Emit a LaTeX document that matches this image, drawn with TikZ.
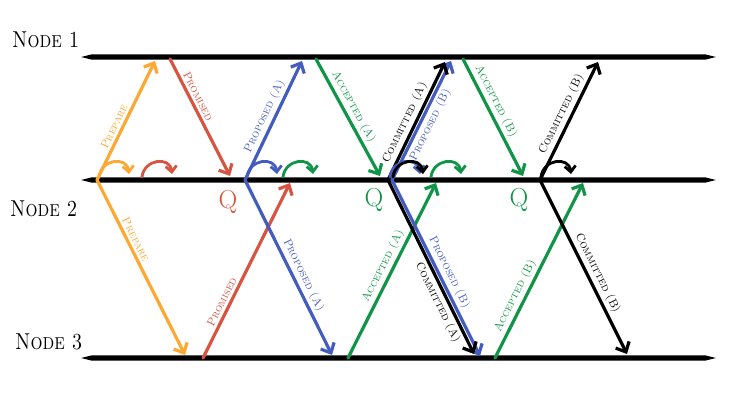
\documentclass[tikz,border=0pt]{standalone}
\usetikzlibrary{arrows.meta}
\definecolor{prepcol}{RGB}{252,168,50}
\definecolor{promcol}{RGB}{214,84,64}
\definecolor{propcol}{RGB}{68,92,192}
\definecolor{acccol}{RGB}{16,148,72}
\tikzset{
  msg/.style={line width=3.2pt,line cap=round,-{Straight Barb[length=8pt,width=15pt]}},
  hop/.style={line width=2.8pt,line cap=round,-{Straight Barb[length=6pt,width=11pt]}},
  tag/.style={font=\scshape\fontsize{11.5}{11.5}\selectfont,sloped,inner sep=2.5pt},
  who/.style={font=\scshape\fontsize{23}{23}\selectfont,anchor=west,inner sep=0pt,xscale=0.82},
  quorum/.style={font=\fontsize{26}{26}\selectfont,inner sep=0pt}
}
\begin{document}
\begin{tikzpicture}[x=1pt,y=-1pt]
  \useasboundingbox (0,0) rectangle (738,403);
  \foreach \y/\n in {57/1,180/2,358/3}{
    \coordinate (l\n) at (81,\y);
    \coordinate (r\n) at (716,\y);
    \fill (l\n) -- (92,\y-2.7) -- (705,\y-2.7) -- (r\n) -- (705,\y+2.7) -- (92,\y+2.7) -- cycle;
  }
  \node[who] (name1) at (12,40) {Node 1};
  \node[who] (name2) at (10,209) {Node 2};
  \node[who] (name3) at (15,342) {Node 3};
  \coordinate (p0) at (97,180);  \coordinate (p1) at (155,61);  \coordinate (p3) at (185,355);
  \coordinate (r0) at (170,59);  \coordinate (r1) at (230,176);
  \coordinate (r2) at (203,358); \coordinate (r3) at (290,183);
  \coordinate (a0) at (245,180); \coordinate (a1) at (302,61);  \coordinate (a3) at (332,355);
  \coordinate (g0) at (316,59);  \coordinate (g1) at (380,176);
  \coordinate (g2) at (348,358); \coordinate (g3) at (436,183);
  \coordinate (c0) at (388,180); \coordinate (c1) at (445,62);  \coordinate (c3) at (474,354);
  \coordinate (b0) at (392,180); \coordinate (b1) at (451,61);  \coordinate (b3) at (480,356);
  \coordinate (h0) at (463,59);  \coordinate (h1) at (523,176);
  \coordinate (h2) at (495,358); \coordinate (h3) at (583,183);
  \coordinate (k0) at (540,180); \coordinate (k1) at (598,62);  \coordinate (k3) at (627,354);
  \draw[msg,prepcol] (p0) -- node[tag,above,pos=0.42] {Prepare} (p1);
  \draw[msg,prepcol] (p0) -- node[tag,above,pos=0.36] {Prepare} (p3);
  \draw[msg,promcol] (r0) -- node[tag,above,pos=0.35] {Promised} (r1);
  \draw[msg,promcol] (r2) -- node[tag,above,pos=0.3] {Promised} (r3);
  \draw[msg,propcol] (a0) -- node[tag,above,pos=0.5] {Proposed (A)} (a1);
  \draw[msg,propcol] (a0) -- node[tag,above,pos=0.57] {Proposed (A)} (a3);
  \draw[msg,acccol] (g0) -- node[tag,above,pos=0.45] {Accepted (A)} (g1);
  \draw[msg,acccol] (g2) -- node[tag,above,pos=0.5] {Accepted (A)} (g3);
  \draw[msg,propcol] (b0) -- node[tag,below,pos=0.5] {Proposed (B)} (b1);
  \draw[msg,propcol] (b0) -- node[tag,above,pos=0.55] {Proposed (B)} (b3);
  \draw[msg] (c0) -- node[tag,above,pos=0.45] {Committed (A)} (c1);
  \draw[msg] (c0) -- node[tag,below,pos=0.68] {Committed (A)} (c3);
  \draw[msg,acccol] (h0) -- node[tag,above,pos=0.4] {Accepted (B)} (h1);
  \draw[msg,acccol] (h2) -- node[tag,above,pos=0.33] {Accepted (B)} (h3);
  \draw[msg] (k0) -- node[tag,above,pos=0.52] {Committed (B)} (k1);
  \draw[msg] (k0) -- node[tag,above,pos=0.56] {Committed (B)} (k3);
  \foreach \x/\c in {99/prepcol,142/promcol,247/propcol,283/acccol,390/propcol,393/black,431/acccol,541/black}
    \draw[hop,\c] (\x,177) .. controls ({\x+2},159) and ({\x+28},156) .. ({\x+30},174);
  \node[quorum,promcol] (q1) at (228,202) {Q};
  \node[quorum,acccol] (q2) at (374,200) {Q};
  \node[quorum,acccol] (q3) at (519,200) {Q};
\end{tikzpicture}
\end{document}
